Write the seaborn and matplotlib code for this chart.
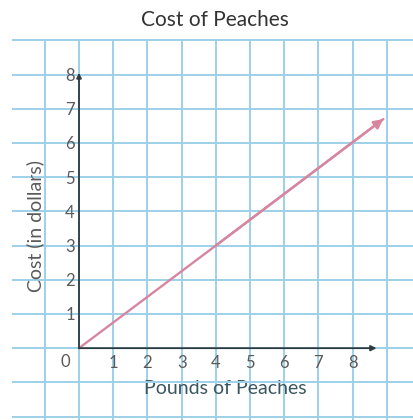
import matplotlib
matplotlib.use("Agg")
import matplotlib.pyplot as plt
import seaborn as sns

# values
pounds = [0, 4, 8.9]
cost = [0, 3, 6.7]
x_ticks = [1, 2, 3, 4, 5, 6, 7, 8]
y_ticks = [1, 2, 3, 4, 5, 6, 7, 8]

sns.set_style("white")
plt.rcParams['font.family'] = ['Lato', 'DejaVu Sans']

grid_blue = "#9dd0e8"
axis_col = "#2c3b40"
text_col = "#5a5a5a"
pink = "#d886a0"

fig = plt.figure(figsize=(4.14, 4.2), dpi=100)
unit = 34.2  # pixels per grid square
x0, x1 = -1.95, 9.8
y0, y1 = -2.1, 9.03
ax = fig.add_axes([(79 + x0 * unit) / 414, 0, (x1 - x0) * unit / 414, (y1 - y0) * unit / 420])
ax.set_xlim(x0, x1)
ax.set_ylim(y0, y1)

# graph-paper grid
ax.set_xticks(range(-1, 10), minor=True)
ax.set_yticks(range(-2, 10), minor=True)
ax.set_xticks(x_ticks)
ax.set_yticks(y_ticks)
ax.grid(which="both", color=grid_blue, lw=1.4)
ax.set_axisbelow(True)
ax.tick_params(which="both", length=0)
ax.tick_params(axis="x", pad=5, labelsize=12, labelcolor=text_col)
ax.tick_params(axis="y", pad=3, labelsize=12, labelcolor=text_col)

for side in ["top", "right", "left", "bottom"]:
    ax.spines[side].set_visible(False)
ax.spines["left"].set_position(("data", 0))
ax.spines["bottom"].set_position(("data", 0))

# axes with arrowheads
ax.annotate("", xy=(0, 8.05), xytext=(0, 0),
            arrowprops=dict(arrowstyle="-|>", color=axis_col, lw=1.3,
                            mutation_scale=7, shrinkA=0, shrinkB=0))
ax.annotate("", xy=(8.7, 0), xytext=(0, 0),
            arrowprops=dict(arrowstyle="-|>", color=axis_col, lw=1.3,
                            mutation_scale=8, shrinkA=0, shrinkB=0))
ax.text(-0.41, -0.41, "0", ha="center", va="center", fontsize=12, color=text_col)

# cost line
sns.lineplot(x=pounds, y=cost, ax=ax, color=pink, lw=1.7)
ax.annotate("", xy=(pounds[-1], cost[-1]), xytext=(pounds[-2], cost[-2]),
            arrowprops=dict(arrowstyle="-|>", color=pink, lw=1.7,
                            mutation_scale=14, shrinkA=0, shrinkB=0))

ax.set_xlabel("Pounds of Peaches", fontsize=14, color="#3a5660")
ax.set_ylabel("Cost (in dollars)", fontsize=14, color=text_col)
ax.xaxis.set_label_coords(4.27, -1.17, transform=ax.transData)
ax.yaxis.set_label_coords(-1.29, 3.56, transform=ax.transData)
ax.xaxis.label.set_va("center")
ax.yaxis.label.set_va("center")

fig.text(215 / 414, 1 - 20 / 420, "Cost of Peaches", ha="center", va="center",
         fontsize=15, color="#333333")

fig.savefig("out.png", dpi=100)
